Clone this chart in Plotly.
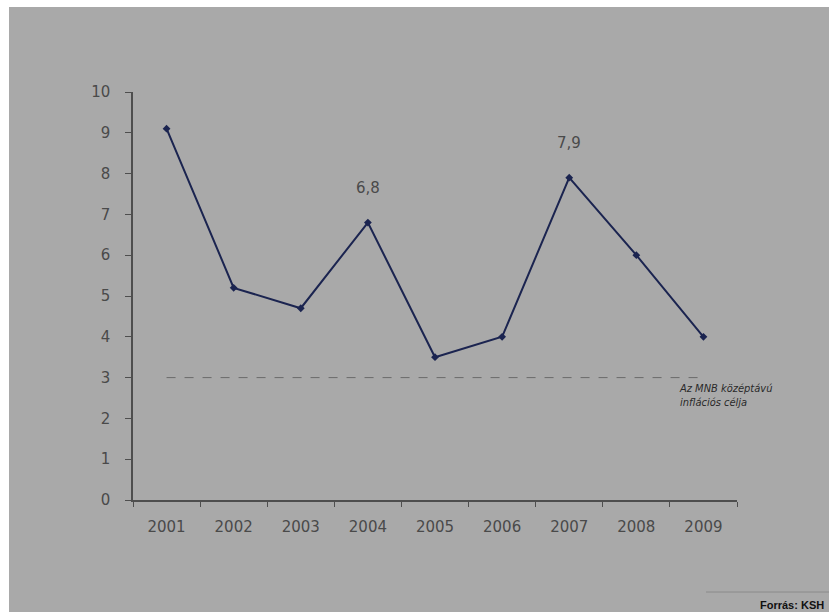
import plotly.graph_objects as go

years = ["2001", "2002", "2003", "2004", "2005", "2006", "2007", "2008", "2009"]
inflation = [9.1, 5.2, 4.7, 6.8, 3.5, 4.0, 7.9, 6.0, 4.0]
target = [3] * len(years)
labelled = ["2004", "2007"]

W, H = 829, 612
L, R, T, B = 133, 92, 92, 112
BG = "#a9a9a9"
TXT = "#4a4a4a"
AX = "#4e4e4e"

fig = go.Figure()
fig.add_trace(go.Scatter(
    x=years, y=target, mode="lines",
    line=dict(color="#6a6a6a", width=1, dash="dash"),
    hoverinfo="skip", showlegend=False))
fig.add_trace(go.Scatter(
    x=years, y=inflation, mode="lines+markers",
    line=dict(color="#1b2450", width=2),
    marker=dict(symbol="diamond", size=6, color="#1b2450"),
    showlegend=False, cliponaxis=False))

for yr in labelled:
    i = years.index(yr)
    v = inflation[i]
    fig.add_annotation(x=i, y=v, xref="x", yref="y",
                       text=f"{v:.1f}".replace(".", ","),
                       showarrow=False, yshift=35,
                       font=dict(family="DejaVu Sans", size=15, color=TXT))

def px(x):
    return (x - L) / (W - L - R)
def py(y):
    return 1 - (y - T) / (H - T - B)

fig.update_layout(
    width=W, height=H,
    margin=dict(l=L, r=R, t=T, b=B),
    paper_bgcolor=BG, plot_bgcolor=BG,
    font=dict(family="DejaVu Sans", color=TXT),
    xaxis=dict(
        type="category", tickson="boundaries", showgrid=False,
        showline=True, linecolor=AX, linewidth=1.5,
        ticks="outside", ticklen=5, tickcolor=AX,
        tickfont=dict(size=15, color=TXT), ticklabelstandoff=12,
        zeroline=False, range=[-0.5, 8.5]),
    yaxis=dict(
        range=[0, 10], dtick=1, showgrid=False,
        showline=True, linecolor=AX, linewidth=1.5,
        ticks="outside", ticklen=6, tickcolor=AX,
        tickfont=dict(size=15, color=TXT), ticklabelstandoff=12,
        zeroline=False),
)

fig.add_annotation(x=px(677), y=py(380), xref="paper", yref="paper",
                   xanchor="left", yanchor="top", align="left",
                   text="<i>Az MNB középtávú<br>inflációs célja</i>",
                   showarrow=False,
                   font=dict(size=11, color="#2a2a2a", family="DejaVu Sans Condensed"))
fig.add_annotation(x=px(826), y=py(597), xref="paper", yref="paper",
                   xanchor="right", yanchor="top",
                   text="<b>Forrás: KSH</b>", showarrow=False,
                   font=dict(size=11, color="#111111", family="Liberation Sans"))

fig.add_shape(type="rect", xref="paper", yref="paper", x0=px(0), x1=px(W), y0=py(7), y1=py(0),
              fillcolor="white", line=dict(width=0), layer="below")
fig.add_shape(type="rect", xref="paper", yref="paper", x0=px(0), x1=px(9), y0=py(H), y1=py(0),
              fillcolor="white", line=dict(width=0), layer="below")
fig.add_shape(type="line", xref="paper", yref="paper", x0=px(706), x1=px(W), y0=py(592), y1=py(592),
              line=dict(color="#8a8a8a", width=1))

fig.write_html("out.html")
